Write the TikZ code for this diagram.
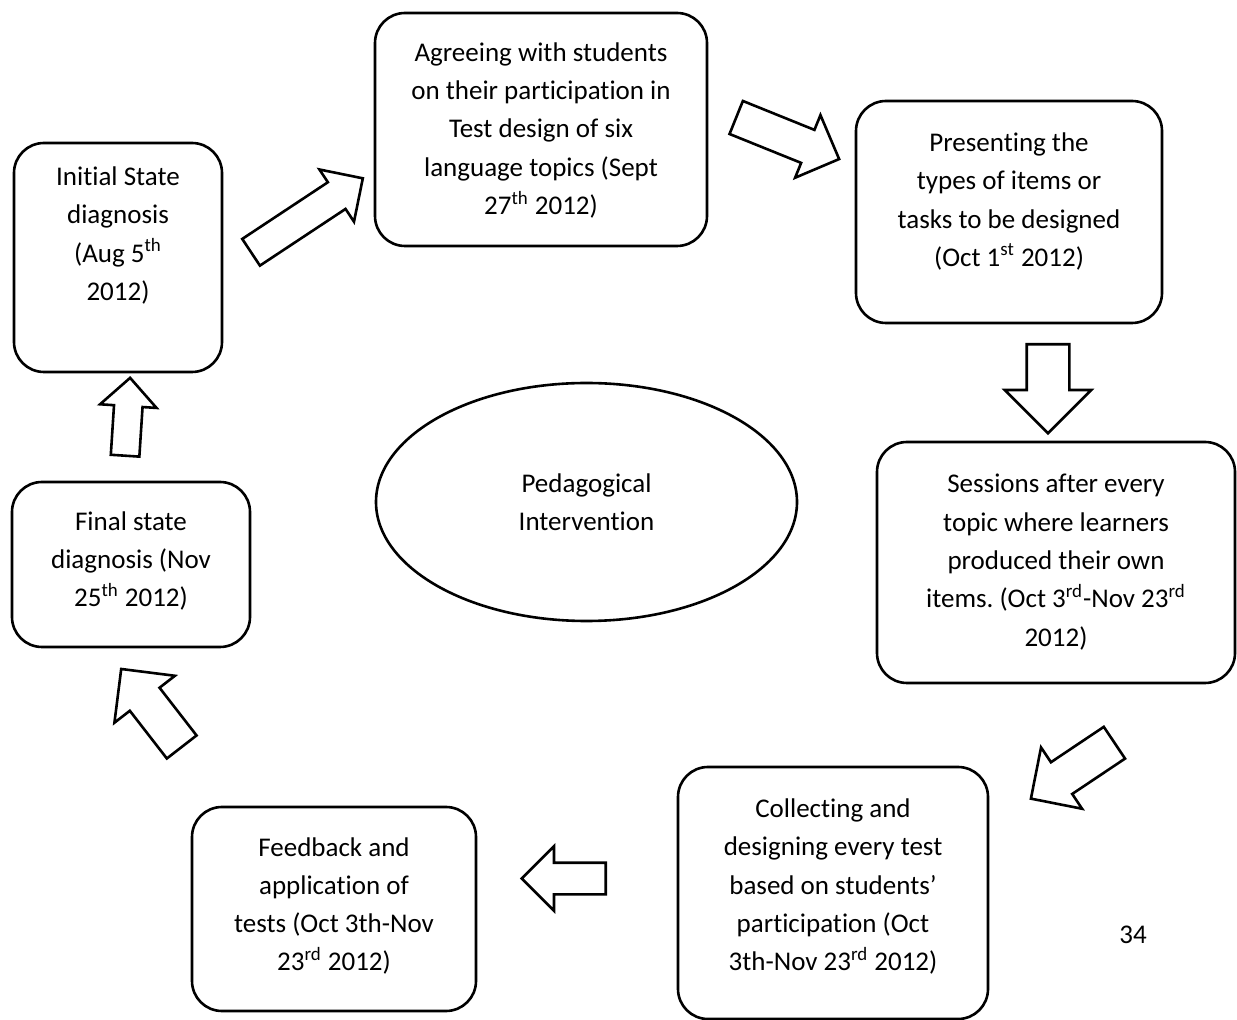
\documentclass[tikz,border=0pt]{standalone}
\usepackage{fontspec}
\setmainfont{Carlito}[Ligatures={NoCommon,NoContextual,NoRequired}]
\usetikzlibrary{shapes.arrows,shapes.geometric,positioning}
\frenchspacing

\begin{document}
\begin{tikzpicture}[x=0.5pt,y=-0.5pt,line width=1.3pt,
  stage/.style={rectangle,rounded corners=15pt,draw=black},
  stagetext/.style={align=center,inner sep=0pt,font=\fontsize{13.5}{19.15}\selectfont},
  flowarrow/.style={single arrow,draw=black,fill=white,inner xsep=0pt,anchor=tail,single arrow tip angle=90}]
\useasboundingbox (0,0) rectangle (1237,1020);
%Stage Boxes
\node at (118,257.5) [stage,minimum width=104pt,minimum height=114.5pt] (Stage1) {};
\node at (541,129.5) [stage,minimum width=166pt,minimum height=116.5pt] (Stage2) {};
\node at (1009,212) [stage,minimum width=153pt,minimum height=111pt] (Stage3) {};
\node at (1056,562.5) [stage,minimum width=179pt,minimum height=120.5pt] (Stage4) {};
\node at (833,893) [stage,minimum width=155pt,minimum height=126pt] (Stage5) {};
\node at (334,909) [stage,minimum width=142pt,minimum height=102pt] (Stage6) {};
\node at (131,564.5) [stage,minimum width=119pt,minimum height=82.5pt] (Stage7) {};
\node at (586.5,502) [ellipse,draw=black,minimum width=210.5pt,minimum height=119pt] (Hub) {};
%Stage Labels
\node [stagetext] at ([yshift=11pt]Stage1.center) (Label1) {Initial State\\diagnosis\\(Aug 5\textsuperscript{th}\\2012)};
\node [stagetext] at ([yshift=-0.5pt]Stage2.center) (Label2) {Agreeing with students\\on their participation in\\Test design of six\\language topics (Sept\\27\textsuperscript{th} 2012)};
\node [stagetext] at ([yshift=5.25pt]Stage3.center) (Label3) {Presenting the\\types of items or\\tasks to be designed\\(Oct 1\textsuperscript{st} 2012)};
\node [stagetext] at ([yshift=0.25pt]Stage4.center) (Label4) {Sessions after every\\topic where learners\\produced their own\\items. (Oct 3\textsuperscript{rd}-Nov 23\textsuperscript{rd}\\2012)};
\node [stagetext] at ([yshift=3.25pt]Stage5.center) (Label5) {Collecting and\\designing every test\\based on students’\\participation (Oct\\3th-Nov 23\textsuperscript{rd} 2012)};
\node [stagetext] at ([yshift=1.5pt]Stage6.center) (Label6) {Feedback and\\application of\\tests (Oct 3th-Nov\\23\textsuperscript{rd} 2012)};
\node [stagetext] at ([yshift=1.75pt]Stage7.center) (Label7) {Final state\\diagnosis (Nov\\25\textsuperscript{th} 2012)};
\node [stagetext] at (Hub.center) (HubLabel) {Pedagogical\\Intervention};
\node [stagetext] at (1133,935) (PageNum) {34};
%Block Arrows
\node at (250,253) [flowarrow,rotate=33.5,minimum height=67pt,inner ysep=7.35pt,single arrow head extend=7.65pt] (Arrow1) {};
\node at (735,117) [flowarrow,rotate=-22,minimum height=55.5pt,inner ysep=8.25pt,single arrow head extend=8pt] (Arrow2) {};
\node at (1048,343) [flowarrow,rotate=-90,minimum height=44.5pt,inner ysep=10pt,single arrow head extend=11pt] (Arrow3) {};
\node at (1115.5,742) [flowarrow,rotate=213.8,minimum height=50.25pt,inner ysep=8.9pt,single arrow head extend=8.9pt] (Arrow4) {};
\node at (607,878.5) [flowarrow,rotate=180,minimum height=42pt,inner ysep=7.25pt,single arrow head extend=8.25pt] (Arrow5) {};
\node at (182.5,748) [flowarrow,rotate=127.8,minimum height=49.35pt,inner ysep=8.75pt,single arrow head extend=9.75pt] (Arrow6) {};
\node at (125,457) [flowarrow,rotate=86.3,minimum height=39pt,inner ysep=6.5pt,single arrow head extend=7pt] (Arrow7) {};
\end{tikzpicture}
\end{document}
